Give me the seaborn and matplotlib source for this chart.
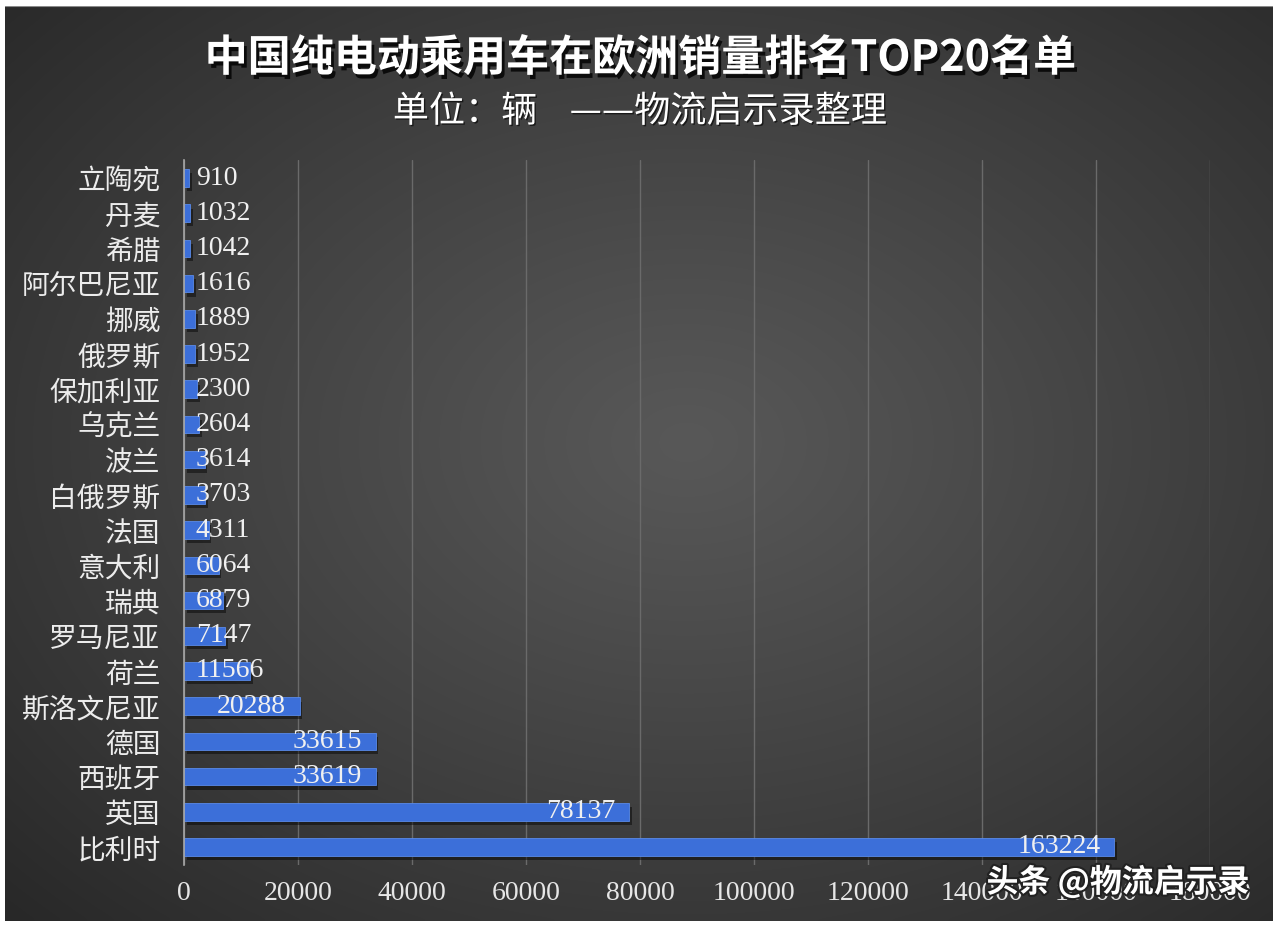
import numpy as np
import pandas as pd
import matplotlib
matplotlib.use("Agg")
import matplotlib.pyplot as plt
import matplotlib.patheffects as pe
import seaborn as sns

# ---- data ----
countries = ["立陶宛", "丹麦", "希腊", "阿尔巴尼亚", "挪威", "俄罗斯", "保加利亚", "乌克兰",
             "波兰", "白俄罗斯", "法国", "意大利", "瑞典", "罗马尼亚", "荷兰", "斯洛文尼亚",
             "德国", "西班牙", "英国", "比利时"]
sales = [910, 1032, 1042, 1616, 1889, 1952, 2300, 2604, 3614, 3703, 4311, 6064, 6879,
         7147, 11566, 20288, 33615, 33619, 78137, 163224]
x_ticks = [0, 20000, 40000, 60000, 80000, 100000, 120000, 140000, 160000, 180000]
title = "中国纯电动乘用车在欧洲销量排名TOP20名单"
subtitle = "单位：辆    ——物流启示录整理"
watermark = "头条 @物流启示录"

df = pd.DataFrame({"country": countries, "sales": sales})

sns.set_theme(style="dark")
plt.rcParams["font.family"] = ["Noto Sans CJK SC", "DejaVu Sans"]

W, H = 1280, 927
fig = plt.figure(figsize=(W / 100, H / 100), dpi=100, facecolor="white")

# background panel with radial gradient
bg = fig.add_axes([5 / W, 6 / H, 1 - 12 / W, 1 - 12 / H])
yy, xx = np.mgrid[0:200, 0:280]
cx, cy = 150, 95
r = np.sqrt(((xx - cx) / 280) ** 2 + ((yy - cy) / 200) ** 2)
g = np.clip(0.345 - 0.26 * r ** 1.1, 0.16, 0.35)
bg.imshow(np.dstack([g, g, g]), aspect="auto", extent=[0, 1, 0, 1], interpolation="bicubic")
bg.set_axis_off()
bg.add_line(plt.Line2D([0, 1], [1, 1], color="#8a8a8a", lw=1.5, transform=bg.transAxes))

ax = fig.add_axes([184 / W, 1 - 864.6 / H, (1210 - 184) / W, (864.6 - 160.4) / H])
ax.patch.set_alpha(0)

sns.barplot(data=df, x="sales", y="country", order=countries, orient="h",
            color="#3c6fd9", width=0.5, saturation=1, ax=ax)
for p in ax.patches:
    p.set_path_effects([pe.SimplePatchShadow(offset=(2, -3), shadow_rgbFace="black", alpha=0.45),
                        pe.Normal()])
    p.set_edgecolor("#5a8ae8")
    p.set_linewidth(0.6)

ax.set_xlim(0, 180000)
ax.set_xticks(x_ticks)
ax.set_xticklabels([str(t) for t in x_ticks], family="Liberation Serif", fontsize=20,
                   color="#e6e6e6")
ax.tick_params(axis="x", length=0, pad=12)
ax.tick_params(axis="y", length=0, pad=17, labelsize=20, labelcolor="#ececec")
ax.set_xlabel("")
ax.set_ylabel("")
ax.grid(axis="x", color="#6a6a6a", lw=1.0)
ax.grid(axis="y", visible=False)
for s in ["top", "right", "bottom"]:
    ax.spines[s].set_visible(False)
ax.spines["left"].set_color("#a8a8a8")
ax.spines["left"].set_linewidth(1.2)

for i, v in enumerate(sales):
    if v >= 15000:
        ax.annotate(str(v), xy=(v, i), xytext=(-10, 0), textcoords="offset points",
                    ha="right", va="center", family="Liberation Serif", fontsize=20,
                    color="#f0f0f0")
    else:
        ax.annotate(str(v), xy=(0, i), xytext=(8.5, 0), textcoords="offset points",
                    ha="left", va="center", family="Liberation Serif", fontsize=20,
                    color="#f0f0f0")

shadow = [pe.SimplePatchShadow(offset=(2, -3), shadow_rgbFace="black", alpha=0.8), pe.Normal()]
fig.text(0.5, 1 - 58 / H, title, ha="center", va="center", fontsize=31, fontweight="bold",
         color="white", path_effects=shadow)
fig.text(0.5, 1 - 112 / H, subtitle, ha="center", va="center", fontsize=26,
         color="white",
         path_effects=[pe.SimplePatchShadow(offset=(1, -1), shadow_rgbFace="black", alpha=0.6),
                       pe.Normal()])
fig.text(1250 / W, 1 - 882 / H, watermark, ha="right", va="center", fontsize=23,
         color="white", fontweight="bold",
         path_effects=[pe.Stroke(linewidth=3, foreground="#222222"), pe.Normal()])

fig.savefig("out.png", dpi=100, facecolor="white")
